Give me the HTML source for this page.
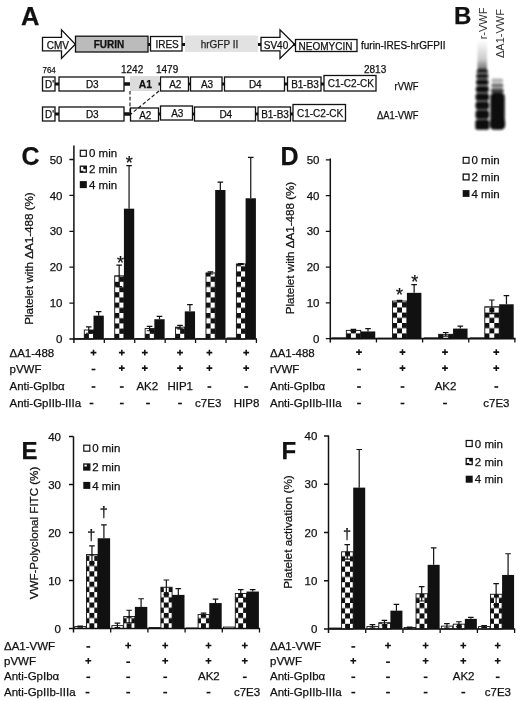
<!DOCTYPE html>
<html lang="en">
<head>
<meta charset="utf-8">
<title>Figure</title>
<style>
html,body{margin:0;padding:0;background:#fff;}
svg{display:block;filter:blur(0.35px);font-family:"Liberation Sans",Arial,Helvetica,sans-serif;fill:#111;}
text{stroke:#111;stroke-width:0.25px;}
</style>
</head>
<body>
<svg width="520" height="701" viewBox="0 0 520 701">
<defs>
<filter id="blur1" x="-30%" y="-10%" width="160%" height="120%"><feGaussianBlur stdDeviation="0.9"/></filter>
<linearGradient id="smear1" x1="0" y1="0" x2="0" y2="1"><stop offset="0" stop-color="#0a0a0a" stop-opacity="0"/><stop offset="0.6" stop-color="#0a0a0a" stop-opacity="0.2"/><stop offset="1" stop-color="#0a0a0a" stop-opacity="0.65"/></linearGradient>
<pattern id="k1" x="84.00" y="333.80" width="9.8" height="10.4" patternUnits="userSpaceOnUse"><rect width="9.8" height="10.4" fill="#fff"/><rect width="4.9" height="5.2" fill="#111"/><rect x="4.9" y="5.2" width="4.9" height="5.2" fill="#111"/></pattern>
<pattern id="k2" x="114.42" y="333.80" width="9.8" height="10.4" patternUnits="userSpaceOnUse"><rect width="9.8" height="10.4" fill="#fff"/><rect width="4.9" height="5.2" fill="#111"/><rect x="4.9" y="5.2" width="4.9" height="5.2" fill="#111"/></pattern>
<pattern id="k3" x="144.84" y="333.80" width="9.8" height="10.4" patternUnits="userSpaceOnUse"><rect width="9.8" height="10.4" fill="#fff"/><rect width="4.9" height="5.2" fill="#111"/><rect x="4.9" y="5.2" width="4.9" height="5.2" fill="#111"/></pattern>
<pattern id="k4" x="175.26" y="333.80" width="9.8" height="10.4" patternUnits="userSpaceOnUse"><rect width="9.8" height="10.4" fill="#fff"/><rect width="4.9" height="5.2" fill="#111"/><rect x="4.9" y="5.2" width="4.9" height="5.2" fill="#111"/></pattern>
<pattern id="k5" x="205.68" y="333.80" width="9.8" height="10.4" patternUnits="userSpaceOnUse"><rect width="9.8" height="10.4" fill="#fff"/><rect width="4.9" height="5.2" fill="#111"/><rect x="4.9" y="5.2" width="4.9" height="5.2" fill="#111"/></pattern>
<pattern id="k6" x="236.10" y="333.80" width="9.8" height="10.4" patternUnits="userSpaceOnUse"><rect width="9.8" height="10.4" fill="#fff"/><rect width="4.9" height="5.2" fill="#111"/><rect x="4.9" y="5.2" width="4.9" height="5.2" fill="#111"/></pattern>
<pattern id="k7" x="346.05" y="333.40" width="9.8" height="10.4" patternUnits="userSpaceOnUse"><rect width="9.8" height="10.4" fill="#fff"/><rect width="4.9" height="5.2" fill="#111"/><rect x="4.9" y="5.2" width="4.9" height="5.2" fill="#111"/></pattern>
<pattern id="k8" x="392.20" y="333.40" width="9.8" height="10.4" patternUnits="userSpaceOnUse"><rect width="9.8" height="10.4" fill="#fff"/><rect width="4.9" height="5.2" fill="#111"/><rect x="4.9" y="5.2" width="4.9" height="5.2" fill="#111"/></pattern>
<pattern id="k9" x="438.35" y="333.40" width="9.8" height="10.4" patternUnits="userSpaceOnUse"><rect width="9.8" height="10.4" fill="#fff"/><rect width="4.9" height="5.2" fill="#111"/><rect x="4.9" y="5.2" width="4.9" height="5.2" fill="#111"/></pattern>
<pattern id="k10" x="484.50" y="333.40" width="9.8" height="10.4" patternUnits="userSpaceOnUse"><rect width="9.8" height="10.4" fill="#fff"/><rect width="4.9" height="5.2" fill="#111"/><rect x="4.9" y="5.2" width="4.9" height="5.2" fill="#111"/></pattern>
<pattern id="k11" x="89.40" y="623.30" width="9.8" height="10.4" patternUnits="userSpaceOnUse"><rect width="9.8" height="10.4" fill="#fff"/><rect width="4.9" height="5.2" fill="#111"/><rect x="4.9" y="5.2" width="4.9" height="5.2" fill="#111"/></pattern>
<pattern id="k12" x="126.60" y="623.30" width="9.8" height="10.4" patternUnits="userSpaceOnUse"><rect width="9.8" height="10.4" fill="#fff"/><rect width="4.9" height="5.2" fill="#111"/><rect x="4.9" y="5.2" width="4.9" height="5.2" fill="#111"/></pattern>
<pattern id="k13" x="163.80" y="623.30" width="9.8" height="10.4" patternUnits="userSpaceOnUse"><rect width="9.8" height="10.4" fill="#fff"/><rect width="4.9" height="5.2" fill="#111"/><rect x="4.9" y="5.2" width="4.9" height="5.2" fill="#111"/></pattern>
<pattern id="k14" x="201.00" y="623.30" width="9.8" height="10.4" patternUnits="userSpaceOnUse"><rect width="9.8" height="10.4" fill="#fff"/><rect width="4.9" height="5.2" fill="#111"/><rect x="4.9" y="5.2" width="4.9" height="5.2" fill="#111"/></pattern>
<pattern id="k15" x="238.20" y="623.30" width="9.8" height="10.4" patternUnits="userSpaceOnUse"><rect width="9.8" height="10.4" fill="#fff"/><rect width="4.9" height="5.2" fill="#111"/><rect x="4.9" y="5.2" width="4.9" height="5.2" fill="#111"/></pattern>
<pattern id="k16" x="345.10" y="623.80" width="9.8" height="10.4" patternUnits="userSpaceOnUse"><rect width="9.8" height="10.4" fill="#fff"/><rect width="4.9" height="5.2" fill="#111"/><rect x="4.9" y="5.2" width="4.9" height="5.2" fill="#111"/></pattern>
<pattern id="k17" x="382.32" y="623.80" width="9.8" height="10.4" patternUnits="userSpaceOnUse"><rect width="9.8" height="10.4" fill="#fff"/><rect width="4.9" height="5.2" fill="#111"/><rect x="4.9" y="5.2" width="4.9" height="5.2" fill="#111"/></pattern>
<pattern id="k18" x="419.54" y="623.80" width="9.8" height="10.4" patternUnits="userSpaceOnUse"><rect width="9.8" height="10.4" fill="#fff"/><rect width="4.9" height="5.2" fill="#111"/><rect x="4.9" y="5.2" width="4.9" height="5.2" fill="#111"/></pattern>
<pattern id="k19" x="456.76" y="623.80" width="9.8" height="10.4" patternUnits="userSpaceOnUse"><rect width="9.8" height="10.4" fill="#fff"/><rect width="4.9" height="5.2" fill="#111"/><rect x="4.9" y="5.2" width="4.9" height="5.2" fill="#111"/></pattern>
<pattern id="k20" x="493.98" y="623.80" width="9.8" height="10.4" patternUnits="userSpaceOnUse"><rect width="9.8" height="10.4" fill="#fff"/><rect width="4.9" height="5.2" fill="#111"/><rect x="4.9" y="5.2" width="4.9" height="5.2" fill="#111"/></pattern>
</defs>
<rect x="0" y="0" width="520" height="701" fill="#fff"/>
<g id="panelA">
<text x="21.00" y="25.00" font-size="25.5" font-weight="bold">A</text>
<path d="M42.5,37.4 L61.5,37.4 L61.5,29.8 L75.3,44.2 L61.5,58.5 L61.5,50.8 L42.5,50.8 Z" fill="#fff" stroke="#111" stroke-width="1.3"/>
<text x="57.80" y="48.90" font-size="10" text-anchor="middle">CMV</text>
<rect x="75.50" y="36.20" width="72.50" height="15.80" fill="#bbbbbb" stroke="#111" stroke-width="1.3"/>
<text x="109.00" y="48.00" font-size="10" text-anchor="middle" font-weight="bold">FURIN</text>
<rect x="148" y="43.0" width="2.5" height="3" fill="#111"/>
<rect x="150.50" y="36.50" width="31.50" height="14.50" fill="#fff" stroke="#111" stroke-width="1.3"/>
<text x="167.05" y="47.75" font-size="10" text-anchor="middle">IRES</text>
<rect x="182" y="43.0" width="3" height="3" fill="#111"/>
<rect x="185.00" y="35.50" width="73.00" height="16.50" fill="#e2e2e2"/>
<text x="219.50" y="47.80" font-size="10" text-anchor="middle" fill="#333">hrGFP II</text>
<rect x="258" y="43.0" width="3" height="3" fill="#111"/>
<path d="M261,37.4 L280,37.4 L280,29.8 L294.5,44.2 L280,58.5 L280,50.8 L261,50.8 Z" fill="#fff" stroke="#111" stroke-width="1.3"/>
<text x="276.00" y="48.90" font-size="10" text-anchor="middle">SV40</text>
<rect x="293" y="43.0" width="3" height="3" fill="#111"/>
<rect x="295.50" y="39.50" width="61.50" height="12.00" fill="#fff" stroke="#111" stroke-width="1.3"/>
<text x="325.50" y="49.80" font-size="10" text-anchor="middle">NEOMYCIN</text>
<text x="361.00" y="48.80" font-size="10">furin-IRES-hrGFPII</text>
<text x="42.50" y="72.90" font-size="9.4" textLength="13.3" lengthAdjust="spacingAndGlyphs">764</text>
<text x="121.00" y="72.90" font-size="10">1242</text>
<text x="156.00" y="72.90" font-size="10">1479</text>
<text x="364.00" y="72.60" font-size="10">2813</text>
<rect x="42.50" y="77.00" width="12.50" height="14.00" fill="#fff" stroke="#111" stroke-width="1.3"/>
<text x="49.55" y="88.00" font-size="10" text-anchor="middle">D'</text>
<rect x="55" y="82.5" width="4" height="3" fill="#111"/>
<rect x="59.00" y="77.00" width="65.00" height="14.00" fill="#fff" stroke="#111" stroke-width="1.3"/>
<text x="92.30" y="88.00" font-size="10" text-anchor="middle">D3</text>
<rect x="124" y="82.25" width="6" height="3.5" fill="#111"/>
<rect x="130.00" y="76.00" width="29.00" height="15.00" fill="#dcdcdc"/>
<text x="145.40" y="87.80" font-size="10.3" text-anchor="middle" font-weight="bold">A1</text>
<rect x="158.5" y="82.5" width="2.0" height="3" fill="#111"/>
<rect x="160.50" y="77.00" width="28.00" height="14.00" fill="#fff" stroke="#111" stroke-width="1.3"/>
<text x="175.30" y="88.00" font-size="10" text-anchor="middle">A2</text>
<rect x="188.5" y="82.5" width="2.0" height="3" fill="#111"/>
<rect x="190.50" y="77.00" width="31.50" height="14.00" fill="#fff" stroke="#111" stroke-width="1.3"/>
<text x="207.05" y="88.00" font-size="10" text-anchor="middle">A3</text>
<rect x="222" y="82.5" width="2.5" height="3" fill="#111"/>
<rect x="224.50" y="77.00" width="60.00" height="14.00" fill="#fff" stroke="#111" stroke-width="1.3"/>
<text x="255.30" y="88.00" font-size="10" text-anchor="middle">D4</text>
<rect x="284.5" y="82.5" width="3.0" height="3" fill="#111"/>
<rect x="287.50" y="77.00" width="33.50" height="14.00" fill="#fff" stroke="#111" stroke-width="1.3"/>
<text x="305.05" y="88.00" font-size="10" text-anchor="middle">B1-B3</text>
<rect x="321" y="82.5" width="3" height="3" fill="#111"/>
<rect x="324.00" y="75.50" width="52.00" height="15.50" fill="#fff" stroke="#111" stroke-width="1.3"/>
<text x="350.80" y="87.25" font-size="10" text-anchor="middle">C1-C2-CK</text>
<text x="394.50" y="89.80" font-size="10" textLength="24" lengthAdjust="spacingAndGlyphs">rVWF</text>
<rect x="42.50" y="107.00" width="12.50" height="14.00" fill="#fff" stroke="#111" stroke-width="1.3"/>
<text x="49.55" y="118.00" font-size="10" text-anchor="middle">D'</text>
<rect x="55" y="112.5" width="4" height="3" fill="#111"/>
<rect x="59.00" y="107.00" width="65.00" height="14.00" fill="#fff" stroke="#111" stroke-width="1.3"/>
<text x="92.30" y="118.00" font-size="10" text-anchor="middle">D3</text>
<rect x="124" y="112.25" width="6" height="3.5" fill="#111"/>
<rect x="130.50" y="108.00" width="28.00" height="13.00" fill="#fff" stroke="#111" stroke-width="1.3"/>
<text x="145.30" y="119.00" font-size="10" text-anchor="middle">A2</text>
<rect x="158.5" y="112.5" width="2.0" height="3" fill="#111"/>
<rect x="160.50" y="106.00" width="32.00" height="14.00" fill="#fff" stroke="#111" stroke-width="1.3"/>
<text x="177.30" y="117.00" font-size="10" text-anchor="middle">A3</text>
<rect x="192.5" y="112.5" width="2.0" height="3" fill="#111"/>
<rect x="194.50" y="107.00" width="61.00" height="14.00" fill="#fff" stroke="#111" stroke-width="1.3"/>
<text x="225.80" y="118.00" font-size="10" text-anchor="middle">D4</text>
<rect x="255.5" y="112.5" width="2.5" height="3" fill="#111"/>
<rect x="258.00" y="107.00" width="32.50" height="14.00" fill="#fff" stroke="#111" stroke-width="1.3"/>
<text x="275.05" y="118.00" font-size="10" text-anchor="middle">B1-B3</text>
<rect x="290.5" y="112.5" width="2.5" height="3" fill="#111"/>
<rect x="293.00" y="104.50" width="52.50" height="16.50" fill="#fff" stroke="#111" stroke-width="1.3"/>
<text x="320.05" y="116.75" font-size="10" text-anchor="middle">C1-C2-CK</text>
<text x="377.00" y="119.30" font-size="10" textLength="41.5" lengthAdjust="spacingAndGlyphs">ΔA1-VWF</text>
<path d="M130,91 L130,112 M159,91 L131,114" fill="none" stroke="#111" stroke-width="1.1" stroke-dasharray="3.6,2.2"/>
</g>
<g id="panelB">
<text x="454.00" y="24.00" font-size="24" font-weight="bold">B</text>
<text transform="translate(487.3,39.3) rotate(-90)" font-size="11" fill="#333" style="stroke:none">r-VWF</text>
<text transform="translate(504.3,58) rotate(-90)" font-size="11" fill="#333" style="stroke:none">ΔA1-VWF</text>
<g filter="url(#blur1)">
<rect x="477.5" y="40" width="9.5" height="32" fill="url(#smear1)"/>
<rect x="476.5" y="69" width="11.6" height="58" rx="3" fill="#0a0a0a" opacity="0.45"/>
<rect x="476.8" y="69.2" width="11" height="3.6" rx="2.5" fill="#0a0a0a" opacity="0.8"/>
<rect x="476.3" y="74.10000000000001" width="12" height="4.2" rx="2.5" fill="#0a0a0a" opacity="0.9"/>
<rect x="476.05" y="79.7" width="12.5" height="5" rx="2.5" fill="#0a0a0a" opacity="1"/>
<rect x="475.8" y="86.2" width="13" height="6" rx="2.5" fill="#0a0a0a" opacity="1"/>
<rect x="475.55" y="93.5" width="13.5" height="7" rx="2.5" fill="#0a0a0a" opacity="1"/>
<rect x="475.55" y="101.75" width="13.5" height="7.5" rx="2.5" fill="#0a0a0a" opacity="1"/>
<rect x="475.55" y="110.35" width="13.5" height="8.3" rx="2.5" fill="#0a0a0a" opacity="1"/>
<rect x="475.3" y="119.8" width="14" height="10" rx="2.5" fill="#0a0a0a" opacity="1"/>
<rect x="491.5" y="78.5" width="11.5" height="4" rx="1.5" fill="#0a0a0a" opacity="0.3"/>
<rect x="491.3" y="83.5" width="12" height="4" rx="1.5" fill="#0a0a0a" opacity="0.55"/>
<rect x="491" y="88.5" width="12.5" height="4.5" rx="1.5" fill="#0a0a0a" opacity="0.8"/>
<rect x="490.3" y="93" width="14.4" height="36.5" rx="4" fill="#0a0a0a"/>
<rect x="489.8" y="118" width="15.4" height="11.5" rx="4.5" fill="#0a0a0a"/>
</g>
</g>
<g id="C">
<rect x="74.90" y="338.64" width="8.90" height="0.36" fill="#fff" stroke="#111" stroke-width="0.9"/>
<rect x="84.30" y="330.02" width="9.20" height="8.98" fill="url(#k1)" stroke="#111" stroke-width="0.9"/>
<path d="M88.75,333.26 L88.75,326.79 M85.95,326.79 L91.55,326.79 M85.95,333.26 L91.55,333.26" stroke="#111" stroke-width="1.2" fill="none"/>
<rect x="93.50" y="315.67" width="10.30" height="23.33" fill="#111"/>
<path d="M98.65,315.67 L98.65,311.72 M95.85,311.72 L101.45,311.72" stroke="#111" stroke-width="1.2" fill="none"/>
<rect x="105.32" y="338.82" width="8.90" height="0.18" fill="#fff" stroke="#111" stroke-width="0.9"/>
<rect x="114.72" y="275.82" width="9.20" height="63.18" fill="url(#k2)" stroke="#111" stroke-width="0.9"/>
<path d="M119.17,286.59 L119.17,265.05 M116.37,265.05 L121.97,265.05 M116.37,286.59 L121.97,286.59" stroke="#111" stroke-width="1.2" fill="none"/>
<rect x="123.92" y="208.68" width="10.30" height="130.32" fill="#111"/>
<path d="M129.07,208.68 L129.07,165.60 M126.27,165.60 L131.87,165.60" stroke="#111" stroke-width="1.2" fill="none"/>
<rect x="135.74" y="338.64" width="8.90" height="0.36" fill="#fff" stroke="#111" stroke-width="0.9"/>
<rect x="145.14" y="328.59" width="9.20" height="10.41" fill="url(#k3)" stroke="#111" stroke-width="0.9"/>
<path d="M149.59,330.74 L149.59,326.44 M146.79,326.44 L152.39,326.44 M146.79,330.74 L152.39,330.74" stroke="#111" stroke-width="1.2" fill="none"/>
<rect x="154.34" y="319.25" width="10.30" height="19.75" fill="#111"/>
<path d="M159.49,319.25 L159.49,316.38 M156.69,316.38 L162.29,316.38" stroke="#111" stroke-width="1.2" fill="none"/>
<rect x="166.16" y="338.64" width="8.90" height="0.36" fill="#fff" stroke="#111" stroke-width="0.9"/>
<rect x="175.56" y="327.15" width="9.20" height="11.85" fill="url(#k4)" stroke="#111" stroke-width="0.9"/>
<path d="M180.01,328.95 L180.01,325.36 M177.21,325.36 L182.81,325.36 M177.21,328.95 L182.81,328.95" stroke="#111" stroke-width="1.2" fill="none"/>
<rect x="184.76" y="311.36" width="10.30" height="27.64" fill="#111"/>
<path d="M189.91,311.36 L189.91,304.54 M187.11,304.54 L192.71,304.54" stroke="#111" stroke-width="1.2" fill="none"/>
<rect x="196.58" y="338.64" width="8.90" height="0.36" fill="#fff" stroke="#111" stroke-width="0.9"/>
<rect x="205.98" y="272.94" width="9.20" height="66.06" fill="url(#k5)" stroke="#111" stroke-width="0.9"/>
<path d="M210.43,274.02 L210.43,271.87 M207.63,271.87 L213.23,271.87 M207.63,274.02 L213.23,274.02" stroke="#111" stroke-width="1.2" fill="none"/>
<rect x="215.18" y="190.02" width="10.30" height="148.98" fill="#111"/>
<path d="M220.33,190.02 L220.33,182.12 M217.53,182.12 L223.13,182.12" stroke="#111" stroke-width="1.2" fill="none"/>
<rect x="227.00" y="337.92" width="8.90" height="1.08" fill="#fff" stroke="#111" stroke-width="0.9"/>
<rect x="236.40" y="263.97" width="9.20" height="75.03" fill="url(#k6)" stroke="#111" stroke-width="0.9"/>
<path d="M240.85,264.33 L240.85,263.61 M238.05,263.61 L243.65,263.61 M238.05,264.33 L243.65,264.33" stroke="#111" stroke-width="1.2" fill="none"/>
<rect x="245.60" y="198.27" width="10.30" height="140.73" fill="#111"/>
<path d="M250.75,198.27 L250.75,157.35 M247.95,157.35 L253.55,157.35" stroke="#111" stroke-width="1.2" fill="none"/>
<path d="M73.9,145.4 L73.9,343" stroke="#111" stroke-width="1.5" fill="none"/>
<path d="M73.4,339 L257.02,339" stroke="#111" stroke-width="1.6" fill="none"/>
<text x="62.50" y="343.10" font-size="11.5" text-anchor="end">0</text>
<text x="62.50" y="307.20" font-size="11.5" text-anchor="end">10</text>
<text x="62.50" y="271.30" font-size="11.5" text-anchor="end">20</text>
<text x="62.50" y="235.40" font-size="11.5" text-anchor="end">30</text>
<text x="62.50" y="199.50" font-size="11.5" text-anchor="end">40</text>
<text x="62.50" y="163.60" font-size="11.5" text-anchor="end">50</text>
<path d="M69.4,339.00 L73.9,339.00 M69.4,303.10 L73.9,303.10 M69.4,267.20 L73.9,267.20 M69.4,231.30 L73.9,231.30 M69.4,195.40 L73.9,195.40 M69.4,159.50 L73.9,159.50 M104.32,339 L104.32,343 M134.74,339 L134.74,343 M165.16,339 L165.16,343 M195.58,339 L195.58,343 M226.00,339 L226.00,343 M256.42,339 L256.42,343 " stroke="#111" stroke-width="1.3" fill="none"/>
<text transform="translate(33.3,258.5) rotate(-90)" font-size="11.5" text-anchor="middle" textLength="132.5" lengthAdjust="spacingAndGlyphs">Platelet with ΔA1-488 (%)</text>
<text x="21.60" y="165.20" font-size="25" font-weight="bold">C</text>
<rect x="80.30" y="150.30" width="6.00" height="6.00" fill="#fff" stroke="#111" stroke-width="1.2"/>
<text x="89.00" y="157.40" font-size="11.5">0 min</text>
<rect x="80.30" y="166.20" width="6.00" height="6.00" fill="#fff" stroke="#111" stroke-width="1.3"/>
<rect x="83.30" y="166.20" width="3.00" height="3.00" fill="#111"/>
<rect x="80.30" y="170.70" width="3.00" height="1.50" fill="#111"/>
<text x="89.00" y="173.30" font-size="11.5">2 min</text>
<rect x="79.80" y="181.10" width="7.00" height="7.00" fill="#111"/>
<text x="89.00" y="188.70" font-size="11.5">4 min</text>
<text x="9.50" y="357.00" font-size="11.5">ΔA1-488</text>
<path d="M90.6,352.6 L96.4,352.6 M93.5,349.7 L93.5,355.5" stroke="#111" stroke-width="1.55" fill="none"/>
<path d="M118.89999999999999,352.6 L124.7,352.6 M121.8,349.7 L121.8,355.5" stroke="#111" stroke-width="1.55" fill="none"/>
<path d="M141.9,352.6 L147.70000000000002,352.6 M144.8,349.7 L144.8,355.5" stroke="#111" stroke-width="1.55" fill="none"/>
<path d="M177.1,352.6 L182.9,352.6 M180,349.7 L180,355.5" stroke="#111" stroke-width="1.55" fill="none"/>
<path d="M206.5,352.6 L212.3,352.6 M209.4,349.7 L209.4,355.5" stroke="#111" stroke-width="1.55" fill="none"/>
<path d="M243.29999999999998,352.6 L249.1,352.6 M246.2,349.7 L246.2,355.5" stroke="#111" stroke-width="1.55" fill="none"/>
<text x="9.50" y="372.50" font-size="11.5">pVWF</text>
<path d="M91.6,369.5 L95.4,369.5" stroke="#111" stroke-width="1.6" fill="none"/>
<path d="M118.89999999999999,368.1 L124.7,368.1 M121.8,365.2 L121.8,371.0" stroke="#111" stroke-width="1.55" fill="none"/>
<path d="M141.9,368.1 L147.70000000000002,368.1 M144.8,365.2 L144.8,371.0" stroke="#111" stroke-width="1.55" fill="none"/>
<path d="M177.1,368.1 L182.9,368.1 M180,365.2 L180,371.0" stroke="#111" stroke-width="1.55" fill="none"/>
<path d="M206.5,368.1 L212.3,368.1 M209.4,365.2 L209.4,371.0" stroke="#111" stroke-width="1.55" fill="none"/>
<path d="M243.29999999999998,368.1 L249.1,368.1 M246.2,365.2 L246.2,371.0" stroke="#111" stroke-width="1.55" fill="none"/>
<text x="9.50" y="390.00" font-size="11.5">Anti-GpIbα</text>
<path d="M91.6,387 L95.4,387" stroke="#111" stroke-width="1.6" fill="none"/>
<path d="M119.89999999999999,387 L123.7,387" stroke="#111" stroke-width="1.6" fill="none"/>
<text x="147.30" y="390.00" font-size="11.5" text-anchor="middle">AK2</text>
<text x="180.20" y="390.00" font-size="11.5" text-anchor="middle">HIP1</text>
<path d="M207.5,387 L211.3,387" stroke="#111" stroke-width="1.6" fill="none"/>
<path d="M244.29999999999998,387 L248.1,387" stroke="#111" stroke-width="1.6" fill="none"/>
<text x="9.50" y="406.50" font-size="11.5">Anti-GpIIb-IIIa</text>
<path d="M89.6,403.5 L93.4,403.5" stroke="#111" stroke-width="1.6" fill="none"/>
<path d="M119.89999999999999,403.5 L123.7,403.5" stroke="#111" stroke-width="1.6" fill="none"/>
<path d="M146.1,403.5 L149.9,403.5" stroke="#111" stroke-width="1.6" fill="none"/>
<path d="M178.1,403.5 L181.9,403.5" stroke="#111" stroke-width="1.6" fill="none"/>
<text x="208.20" y="406.50" font-size="11.5" text-anchor="middle">c7E3</text>
<text x="246.60" y="406.50" font-size="11.5" text-anchor="middle">HIP8</text>
<text x="120.40" y="269.00" font-size="18" text-anchor="middle">*</text>
<text x="129.20" y="168.50" font-size="18" text-anchor="middle">*</text>
</g>
<g id="D">
<rect x="332.00" y="337.89" width="13.85" height="0.71" fill="#fff" stroke="#111" stroke-width="0.9"/>
<rect x="346.35" y="330.38" width="14.40" height="8.22" fill="url(#k7)" stroke="#111" stroke-width="0.9"/>
<path d="M353.40,331.45 L353.40,329.31 M350.60,329.31 L356.20,329.31 M350.60,331.45 L356.20,331.45" stroke="#111" stroke-width="1.2" fill="none"/>
<rect x="360.75" y="331.45" width="14.50" height="7.15" fill="#111"/>
<path d="M368.00,331.45 L368.00,328.59 M365.20,328.59 L370.80,328.59" stroke="#111" stroke-width="1.2" fill="none"/>
<rect x="378.15" y="338.24" width="13.85" height="0.36" fill="#fff" stroke="#111" stroke-width="0.9"/>
<rect x="392.50" y="301.06" width="14.40" height="37.54" fill="url(#k8)" stroke="#111" stroke-width="0.9"/>
<path d="M399.55,301.78 L399.55,300.35 M396.75,300.35 L402.35,300.35 M396.75,301.78 L402.35,301.78" stroke="#111" stroke-width="1.2" fill="none"/>
<rect x="406.90" y="292.84" width="14.50" height="45.76" fill="#111"/>
<path d="M414.15,292.84 L414.15,284.62 M411.35,284.62 L416.95,284.62" stroke="#111" stroke-width="1.2" fill="none"/>
<rect x="424.30" y="337.89" width="13.85" height="0.71" fill="#fff" stroke="#111" stroke-width="0.9"/>
<rect x="438.65" y="334.31" width="14.40" height="4.29" fill="url(#k9)" stroke="#111" stroke-width="0.9"/>
<path d="M445.70,336.10 L445.70,332.52 M442.90,332.52 L448.50,332.52 M442.90,336.10 L448.50,336.10" stroke="#111" stroke-width="1.2" fill="none"/>
<rect x="453.05" y="328.59" width="14.50" height="10.01" fill="#111"/>
<path d="M460.30,328.59 L460.30,326.09 M457.50,326.09 L463.10,326.09" stroke="#111" stroke-width="1.2" fill="none"/>
<rect x="470.45" y="337.89" width="13.85" height="0.71" fill="#fff" stroke="#111" stroke-width="0.9"/>
<rect x="484.80" y="306.78" width="14.40" height="31.82" fill="url(#k10)" stroke="#111" stroke-width="0.9"/>
<path d="M491.85,313.58 L491.85,299.99 M489.05,299.99 L494.65,299.99 M489.05,313.58 L494.65,313.58" stroke="#111" stroke-width="1.2" fill="none"/>
<rect x="499.20" y="304.28" width="14.50" height="34.32" fill="#111"/>
<path d="M506.45,304.28 L506.45,295.70 M503.65,295.70 L509.25,295.70" stroke="#111" stroke-width="1.2" fill="none"/>
<path d="M330.3,158.5 L330.3,342.6" stroke="#111" stroke-width="1.5" fill="none"/>
<path d="M329.8,338.6 L515.50,338.6" stroke="#111" stroke-width="1.6" fill="none"/>
<text x="319.50" y="342.70" font-size="11.5" text-anchor="end">0</text>
<text x="319.50" y="306.95" font-size="11.5" text-anchor="end">10</text>
<text x="319.50" y="271.20" font-size="11.5" text-anchor="end">20</text>
<text x="319.50" y="235.45" font-size="11.5" text-anchor="end">30</text>
<text x="319.50" y="199.70" font-size="11.5" text-anchor="end">40</text>
<text x="319.50" y="163.95" font-size="11.5" text-anchor="end">50</text>
<path d="M325.8,338.60 L330.3,338.60 M325.8,302.85 L330.3,302.85 M325.8,267.10 L330.3,267.10 M325.8,231.35 L330.3,231.35 M325.8,195.60 L330.3,195.60 M325.8,159.85 L330.3,159.85 M376.45,338.6 L376.45,342.6 M422.60,338.6 L422.60,342.6 M468.75,338.6 L468.75,342.6 M514.90,338.6 L514.90,342.6 " stroke="#111" stroke-width="1.3" fill="none"/>
<text transform="translate(294,248) rotate(-90)" font-size="11.5" text-anchor="middle" textLength="132.5" lengthAdjust="spacingAndGlyphs">Platelet with ΔA1-488 (%)</text>
<text x="280.50" y="164.80" font-size="25" font-weight="bold">D</text>
<rect x="463.20" y="157.40" width="5.80" height="5.80" fill="#fff" stroke="#111" stroke-width="1.2"/>
<text x="471.50" y="164.40" font-size="11.5">0 min</text>
<rect x="463.20" y="174.10" width="5.80" height="5.80" fill="#fff" stroke="#111" stroke-width="1.3"/>
<text x="471.50" y="181.10" font-size="11.5">2 min</text>
<rect x="462.70" y="190.10" width="6.80" height="6.80" fill="#111"/>
<text x="471.50" y="197.60" font-size="11.5">4 min</text>
<text x="270.00" y="356.50" font-size="11.5">ΔA1-488</text>
<path d="M356.1,352.1 L361.9,352.1 M359,349.2 L359,355.0" stroke="#111" stroke-width="1.55" fill="none"/>
<path d="M399.6,352.1 L405.4,352.1 M402.5,349.2 L402.5,355.0" stroke="#111" stroke-width="1.55" fill="none"/>
<path d="M442.1,352.1 L447.9,352.1 M445,349.2 L445,355.0" stroke="#111" stroke-width="1.55" fill="none"/>
<path d="M493.40000000000003,352.1 L499.2,352.1 M496.3,349.2 L496.3,355.0" stroke="#111" stroke-width="1.55" fill="none"/>
<text x="270.00" y="372.50" font-size="11.5">rVWF</text>
<path d="M357.1,369.5 L360.9,369.5" stroke="#111" stroke-width="1.6" fill="none"/>
<path d="M399.6,368.1 L405.4,368.1 M402.5,365.2 L402.5,371.0" stroke="#111" stroke-width="1.55" fill="none"/>
<path d="M442.1,368.1 L447.9,368.1 M445,365.2 L445,371.0" stroke="#111" stroke-width="1.55" fill="none"/>
<path d="M493.40000000000003,368.1 L499.2,368.1 M496.3,365.2 L496.3,371.0" stroke="#111" stroke-width="1.55" fill="none"/>
<text x="270.00" y="390.00" font-size="11.5">Anti-GpIbα</text>
<path d="M357.1,387 L360.9,387" stroke="#111" stroke-width="1.6" fill="none"/>
<path d="M400.6,387 L404.4,387" stroke="#111" stroke-width="1.6" fill="none"/>
<text x="445.50" y="390.00" font-size="11.5" text-anchor="middle">AK2</text>
<path d="M494.40000000000003,387 L498.2,387" stroke="#111" stroke-width="1.6" fill="none"/>
<text x="270.00" y="406.50" font-size="11.5">Anti-GpIIb-IIIa</text>
<path d="M357.1,403.5 L360.9,403.5" stroke="#111" stroke-width="1.6" fill="none"/>
<path d="M400.6,403.5 L404.4,403.5" stroke="#111" stroke-width="1.6" fill="none"/>
<path d="M443.1,403.5 L446.9,403.5" stroke="#111" stroke-width="1.6" fill="none"/>
<text x="496.40" y="406.50" font-size="11.5" text-anchor="middle">c7E3</text>
<text x="399.40" y="301.40" font-size="18" text-anchor="middle">*</text>
<text x="414.80" y="288.00" font-size="18" text-anchor="middle">*</text>
</g>
<g id="E">
<rect x="74.70" y="626.58" width="11.30" height="1.92" fill="#fff" stroke="#111" stroke-width="0.9"/>
<path d="M80.20,627.06 L80.20,626.10 M77.40,626.10 L83.00,626.10 M77.40,627.06 L83.00,627.06" stroke="#111" stroke-width="1.2" fill="none"/>
<rect x="86.50" y="554.58" width="11.20" height="73.92" fill="url(#k11)" stroke="#111" stroke-width="0.9"/>
<path d="M91.95,563.22 L91.95,545.94 M89.15,545.94 L94.75,545.94 M89.15,563.22 L94.75,563.22" stroke="#111" stroke-width="1.2" fill="none"/>
<rect x="97.70" y="538.26" width="12.40" height="90.24" fill="#111"/>
<path d="M103.90,538.26 L103.90,524.82 M101.10,524.82 L106.70,524.82" stroke="#111" stroke-width="1.2" fill="none"/>
<rect x="111.90" y="625.62" width="11.30" height="2.88" fill="#fff" stroke="#111" stroke-width="0.9"/>
<path d="M117.40,627.70 L117.40,623.22 M114.60,623.22 L120.20,623.22 M114.60,627.70 L120.20,627.70" stroke="#111" stroke-width="1.2" fill="none"/>
<rect x="123.70" y="616.50" width="11.20" height="12.00" fill="url(#k12)" stroke="#111" stroke-width="0.9"/>
<path d="M129.15,622.74 L129.15,610.26 M126.35,610.26 L131.95,610.26 M126.35,622.74 L131.95,622.74" stroke="#111" stroke-width="1.2" fill="none"/>
<rect x="134.90" y="606.90" width="12.40" height="21.60" fill="#111"/>
<path d="M141.10,606.90 L141.10,598.74 M138.30,598.74 L143.90,598.74" stroke="#111" stroke-width="1.2" fill="none"/>
<rect x="149.10" y="627.54" width="11.30" height="0.96" fill="#fff" stroke="#111" stroke-width="0.9"/>
<rect x="160.90" y="587.22" width="11.20" height="41.28" fill="url(#k13)" stroke="#111" stroke-width="0.9"/>
<path d="M166.35,594.42 L166.35,580.02 M163.55,580.02 L169.15,580.02 M163.55,594.42 L169.15,594.42" stroke="#111" stroke-width="1.2" fill="none"/>
<rect x="172.10" y="594.90" width="12.40" height="33.60" fill="#111"/>
<path d="M178.30,594.90 L178.30,588.66 M175.50,588.66 L181.10,588.66" stroke="#111" stroke-width="1.2" fill="none"/>
<rect x="186.30" y="628.02" width="11.30" height="0.48" fill="#fff" stroke="#111" stroke-width="0.9"/>
<rect x="198.10" y="614.58" width="11.20" height="13.92" fill="url(#k14)" stroke="#111" stroke-width="0.9"/>
<path d="M203.55,616.02 L203.55,613.14 M200.75,613.14 L206.35,613.14 M200.75,616.02 L206.35,616.02" stroke="#111" stroke-width="1.2" fill="none"/>
<rect x="209.30" y="603.06" width="12.40" height="25.44" fill="#111"/>
<path d="M215.50,603.06 L215.50,599.22 M212.70,599.22 L218.30,599.22" stroke="#111" stroke-width="1.2" fill="none"/>
<rect x="223.50" y="627.06" width="11.30" height="1.44" fill="#fff" stroke="#111" stroke-width="0.9"/>
<rect x="235.30" y="593.46" width="11.20" height="35.04" fill="url(#k15)" stroke="#111" stroke-width="0.9"/>
<path d="M240.75,597.30 L240.75,589.62 M237.95,589.62 L243.55,589.62 M237.95,597.30 L243.55,597.30" stroke="#111" stroke-width="1.2" fill="none"/>
<rect x="246.50" y="591.54" width="12.40" height="36.96" fill="#111"/>
<path d="M252.70,591.54 L252.70,589.62 M249.90,589.62 L255.50,589.62" stroke="#111" stroke-width="1.2" fill="none"/>
<path d="M73.5,436.5 L73.5,632.5" stroke="#111" stroke-width="1.5" fill="none"/>
<path d="M73.0,628.5 L260.10,628.5" stroke="#111" stroke-width="1.6" fill="none"/>
<text x="61.00" y="632.60" font-size="11.5" text-anchor="end">0</text>
<text x="61.00" y="584.60" font-size="11.5" text-anchor="end">10</text>
<text x="61.00" y="536.60" font-size="11.5" text-anchor="end">20</text>
<text x="61.00" y="488.60" font-size="11.5" text-anchor="end">30</text>
<text x="61.00" y="440.60" font-size="11.5" text-anchor="end">40</text>
<path d="M69.0,628.50 L73.5,628.50 M69.0,580.50 L73.5,580.50 M69.0,532.50 L73.5,532.50 M69.0,484.50 L73.5,484.50 M69.0,436.50 L73.5,436.50 M110.70,628.5 L110.70,632.5 M147.90,628.5 L147.90,632.5 M185.10,628.5 L185.10,632.5 M222.30,628.5 L222.30,632.5 M259.50,628.5 L259.50,632.5 " stroke="#111" stroke-width="1.3" fill="none"/>
<text transform="translate(38.2,533) rotate(-90)" font-size="11.5" text-anchor="middle" textLength="132.5" lengthAdjust="spacingAndGlyphs">VWF-Polyclonal FITC (%)</text>
<text x="21.60" y="458.50" font-size="24" font-weight="bold">E</text>
<rect x="83.80" y="445.20" width="6.00" height="6.00" fill="#fff" stroke="#111" stroke-width="1.2"/>
<text x="92.20" y="452.30" font-size="11.5">0 min</text>
<rect x="83.80" y="464.00" width="6.00" height="6.00" fill="#fff" stroke="#111" stroke-width="1.3"/>
<rect x="83.80" y="466.50" width="6.00" height="3.50" fill="#111"/>
<rect x="86.80" y="464.00" width="3.00" height="3.00" fill="#111"/>
<text x="92.20" y="471.10" font-size="11.5">2 min</text>
<rect x="83.30" y="481.90" width="7.00" height="7.00" fill="#111"/>
<text x="92.20" y="489.50" font-size="11.5">4 min</text>
<text x="4.00" y="649.90" font-size="11.5">ΔA1-VWF</text>
<path d="M86.39999999999999,646.9 L90.2,646.9" stroke="#111" stroke-width="1.6" fill="none"/>
<path d="M125.29999999999998,645.5 L131.1,645.5 M128.2,642.6 L128.2,648.4" stroke="#111" stroke-width="1.55" fill="none"/>
<path d="M162.29999999999998,645.5 L168.1,645.5 M165.2,642.6 L165.2,648.4" stroke="#111" stroke-width="1.55" fill="none"/>
<path d="M205.6,645.5 L211.4,645.5 M208.5,642.6 L208.5,648.4" stroke="#111" stroke-width="1.55" fill="none"/>
<path d="M241.9,645.5 L247.70000000000002,645.5 M244.8,642.6 L244.8,648.4" stroke="#111" stroke-width="1.55" fill="none"/>
<text x="4.00" y="665.20" font-size="11.5">pVWF</text>
<path d="M85.39999999999999,660.8000000000001 L91.2,660.8000000000001 M88.3,657.9000000000001 L88.3,663.7" stroke="#111" stroke-width="1.55" fill="none"/>
<path d="M126.29999999999998,662.2 L130.1,662.2" stroke="#111" stroke-width="1.6" fill="none"/>
<path d="M162.29999999999998,660.8000000000001 L168.1,660.8000000000001 M165.2,657.9000000000001 L165.2,663.7" stroke="#111" stroke-width="1.55" fill="none"/>
<path d="M205.6,660.8000000000001 L211.4,660.8000000000001 M208.5,657.9000000000001 L208.5,663.7" stroke="#111" stroke-width="1.55" fill="none"/>
<path d="M241.9,660.8000000000001 L247.70000000000002,660.8000000000001 M244.8,657.9000000000001 L244.8,663.7" stroke="#111" stroke-width="1.55" fill="none"/>
<text x="4.00" y="680.30" font-size="11.5">Anti-GpIbα</text>
<path d="M86.39999999999999,677.3 L90.2,677.3" stroke="#111" stroke-width="1.6" fill="none"/>
<path d="M126.29999999999998,677.3 L130.1,677.3" stroke="#111" stroke-width="1.6" fill="none"/>
<path d="M163.29999999999998,677.3 L167.1,677.3" stroke="#111" stroke-width="1.6" fill="none"/>
<text x="208.90" y="680.30" font-size="11.5" text-anchor="middle">AK2</text>
<path d="M242.9,677.3 L246.70000000000002,677.3" stroke="#111" stroke-width="1.6" fill="none"/>
<text x="4.00" y="695.60" font-size="11.5">Anti-GpIIb-IIIa</text>
<path d="M85.6,692.6 L89.4,692.6" stroke="#111" stroke-width="1.6" fill="none"/>
<path d="M126.29999999999998,692.6 L130.1,692.6" stroke="#111" stroke-width="1.6" fill="none"/>
<path d="M163.29999999999998,692.6 L167.1,692.6" stroke="#111" stroke-width="1.6" fill="none"/>
<path d="M206.6,692.6 L210.4,692.6" stroke="#111" stroke-width="1.6" fill="none"/>
<text x="247.00" y="695.60" font-size="11.5" text-anchor="middle">c7E3</text>
<text x="91.20" y="539.69" font-size="14.5" text-anchor="middle">†</text>
<text x="103.80" y="517.19" font-size="14.5" text-anchor="middle">†</text>
</g>
<g id="F">
<rect x="329.70" y="628.03" width="11.40" height="0.97" fill="#fff" stroke="#111" stroke-width="0.9"/>
<rect x="341.60" y="551.80" width="11.60" height="77.20" fill="url(#k16)" stroke="#111" stroke-width="0.9"/>
<path d="M347.25,559.04 L347.25,544.56 M344.45,544.56 L350.05,544.56 M344.45,559.04 L350.05,559.04" stroke="#111" stroke-width="1.2" fill="none"/>
<rect x="353.20" y="487.63" width="12.00" height="141.37" fill="#111"/>
<path d="M359.20,487.63 L359.20,449.51 M356.40,449.51 L362.00,449.51" stroke="#111" stroke-width="1.2" fill="none"/>
<rect x="366.92" y="626.59" width="11.40" height="2.41" fill="#fff" stroke="#111" stroke-width="0.9"/>
<path d="M372.47,628.20 L372.47,624.66 M369.67,624.66 L375.27,624.66 M369.67,628.20 L375.27,628.20" stroke="#111" stroke-width="1.2" fill="none"/>
<rect x="378.82" y="622.73" width="11.60" height="6.27" fill="url(#k17)" stroke="#111" stroke-width="0.9"/>
<path d="M384.47,625.14 L384.47,620.32 M381.67,620.32 L387.27,620.32 M381.67,625.14 L387.27,625.14" stroke="#111" stroke-width="1.2" fill="none"/>
<rect x="390.42" y="610.66" width="12.00" height="18.34" fill="#111"/>
<path d="M396.42,610.66 L396.42,604.39 M393.62,604.39 L399.22,604.39" stroke="#111" stroke-width="1.2" fill="none"/>
<rect x="404.14" y="627.55" width="11.40" height="1.45" fill="#fff" stroke="#111" stroke-width="0.9"/>
<path d="M409.69,628.03 L409.69,627.07 M406.89,627.07 L412.49,627.07 M406.89,628.03 L412.49,628.03" stroke="#111" stroke-width="1.2" fill="none"/>
<rect x="416.04" y="593.78" width="11.60" height="35.22" fill="url(#k18)" stroke="#111" stroke-width="0.9"/>
<path d="M421.69,601.01 L421.69,586.54 M418.89,586.54 L424.49,586.54 M418.89,601.01 L424.49,601.01" stroke="#111" stroke-width="1.2" fill="none"/>
<rect x="427.64" y="564.83" width="12.00" height="64.17" fill="#111"/>
<path d="M433.64,564.83 L433.64,547.94 M430.84,547.94 L436.44,547.94" stroke="#111" stroke-width="1.2" fill="none"/>
<rect x="441.36" y="626.11" width="11.40" height="2.89" fill="#fff" stroke="#111" stroke-width="0.9"/>
<path d="M446.91,628.20 L446.91,623.69 M444.11,623.69 L449.71,623.69 M444.11,628.20 L449.71,628.20" stroke="#111" stroke-width="1.2" fill="none"/>
<rect x="453.26" y="624.17" width="11.60" height="4.83" fill="url(#k19)" stroke="#111" stroke-width="0.9"/>
<path d="M458.91,626.59 L458.91,621.76 M456.11,621.76 L461.71,621.76 M456.11,626.59 L461.71,626.59" stroke="#111" stroke-width="1.2" fill="none"/>
<rect x="464.86" y="618.87" width="12.00" height="10.13" fill="#111"/>
<path d="M470.86,618.87 L470.86,617.42 M468.06,617.42 L473.66,617.42" stroke="#111" stroke-width="1.2" fill="none"/>
<rect x="478.58" y="626.59" width="11.40" height="2.41" fill="#fff" stroke="#111" stroke-width="0.9"/>
<path d="M484.13,627.55 L484.13,625.62 M481.33,625.62 L486.93,625.62 M481.33,627.55 L486.93,627.55" stroke="#111" stroke-width="1.2" fill="none"/>
<rect x="490.48" y="594.26" width="11.60" height="34.74" fill="url(#k20)" stroke="#111" stroke-width="0.9"/>
<path d="M496.13,604.88 L496.13,583.64 M493.33,583.64 L498.93,583.64 M493.33,604.88 L498.93,604.88" stroke="#111" stroke-width="1.2" fill="none"/>
<rect x="502.08" y="574.96" width="12.00" height="54.04" fill="#111"/>
<path d="M508.08,574.96 L508.08,553.73 M505.28,553.73 L510.88,553.73" stroke="#111" stroke-width="1.2" fill="none"/>
<path d="M328.5,435.5 L328.5,633" stroke="#111" stroke-width="1.5" fill="none"/>
<path d="M328.0,629 L515.20,629" stroke="#111" stroke-width="1.6" fill="none"/>
<text x="317.30" y="633.10" font-size="11.5" text-anchor="end">0</text>
<text x="317.30" y="584.85" font-size="11.5" text-anchor="end">10</text>
<text x="317.30" y="536.60" font-size="11.5" text-anchor="end">20</text>
<text x="317.30" y="488.35" font-size="11.5" text-anchor="end">30</text>
<text x="317.30" y="440.10" font-size="11.5" text-anchor="end">40</text>
<path d="M324.0,629.00 L328.5,629.00 M324.0,580.75 L328.5,580.75 M324.0,532.50 L328.5,532.50 M324.0,484.25 L328.5,484.25 M324.0,436.00 L328.5,436.00 M365.72,629 L365.72,633 M402.94,629 L402.94,633 M440.16,629 L440.16,633 M477.38,629 L477.38,633 M514.60,629 L514.60,633 " stroke="#111" stroke-width="1.3" fill="none"/>
<text transform="translate(292.2,532) rotate(-90)" font-size="11.5" text-anchor="middle" textLength="113.5" lengthAdjust="spacingAndGlyphs">Platelet activation (%)</text>
<text x="281.60" y="458.50" font-size="24" font-weight="bold">F</text>
<rect x="466.20" y="440.50" width="6.00" height="6.00" fill="#fff" stroke="#111" stroke-width="1.2"/>
<text x="474.80" y="447.60" font-size="11.5">0 min</text>
<rect x="466.20" y="458.50" width="6.00" height="6.00" fill="#fff" stroke="#111" stroke-width="1.3"/>
<rect x="469.20" y="458.50" width="3.00" height="3.00" fill="#111"/>
<rect x="466.20" y="463.00" width="3.00" height="1.50" fill="#111"/>
<text x="474.80" y="465.60" font-size="11.5">2 min</text>
<rect x="465.70" y="475.70" width="7.00" height="7.00" fill="#111"/>
<text x="474.80" y="483.30" font-size="11.5">4 min</text>
<text x="270.00" y="649.90" font-size="11.5">ΔA1-VWF</text>
<path d="M351.40000000000003,646.9 L355.2,646.9" stroke="#111" stroke-width="1.6" fill="none"/>
<path d="M385.1,645.5 L390.9,645.5 M388,642.6 L388,648.4" stroke="#111" stroke-width="1.55" fill="none"/>
<path d="M422.70000000000005,645.5 L428.5,645.5 M425.6,642.6 L425.6,648.4" stroke="#111" stroke-width="1.55" fill="none"/>
<path d="M460.40000000000003,645.5 L466.2,645.5 M463.3,642.6 L463.3,648.4" stroke="#111" stroke-width="1.55" fill="none"/>
<path d="M494.8,645.5 L500.59999999999997,645.5 M497.7,642.6 L497.7,648.4" stroke="#111" stroke-width="1.55" fill="none"/>
<text x="270.00" y="665.20" font-size="11.5">pVWF</text>
<path d="M350.40000000000003,660.8000000000001 L356.2,660.8000000000001 M353.3,657.9000000000001 L353.3,663.7" stroke="#111" stroke-width="1.55" fill="none"/>
<path d="M386.1,662.2 L389.9,662.2" stroke="#111" stroke-width="1.6" fill="none"/>
<path d="M422.70000000000005,660.8000000000001 L428.5,660.8000000000001 M425.6,657.9000000000001 L425.6,663.7" stroke="#111" stroke-width="1.55" fill="none"/>
<path d="M460.40000000000003,660.8000000000001 L466.2,660.8000000000001 M463.3,657.9000000000001 L463.3,663.7" stroke="#111" stroke-width="1.55" fill="none"/>
<path d="M494.8,660.8000000000001 L500.59999999999997,660.8000000000001 M497.7,657.9000000000001 L497.7,663.7" stroke="#111" stroke-width="1.55" fill="none"/>
<text x="270.00" y="680.30" font-size="11.5">Anti-GpIbα</text>
<path d="M351.40000000000003,677.3 L355.2,677.3" stroke="#111" stroke-width="1.6" fill="none"/>
<path d="M386.1,677.3 L389.9,677.3" stroke="#111" stroke-width="1.6" fill="none"/>
<path d="M423.70000000000005,677.3 L427.5,677.3" stroke="#111" stroke-width="1.6" fill="none"/>
<text x="463.60" y="680.30" font-size="11.5" text-anchor="middle">AK2</text>
<path d="M495.8,677.3 L499.59999999999997,677.3" stroke="#111" stroke-width="1.6" fill="none"/>
<text x="270.00" y="695.60" font-size="11.5">Anti-GpIIb-IIIa</text>
<path d="M351.40000000000003,692.6 L355.2,692.6" stroke="#111" stroke-width="1.6" fill="none"/>
<path d="M386.1,692.6 L389.9,692.6" stroke="#111" stroke-width="1.6" fill="none"/>
<path d="M423.70000000000005,692.6 L427.5,692.6" stroke="#111" stroke-width="1.6" fill="none"/>
<path d="M461.40000000000003,692.6 L465.2,692.6" stroke="#111" stroke-width="1.6" fill="none"/>
<text x="497.90" y="695.60" font-size="11.5" text-anchor="middle">c7E3</text>
<text x="347.00" y="539.39" font-size="14.5" text-anchor="middle">†</text>
</g>
</svg>
</body>
</html>
